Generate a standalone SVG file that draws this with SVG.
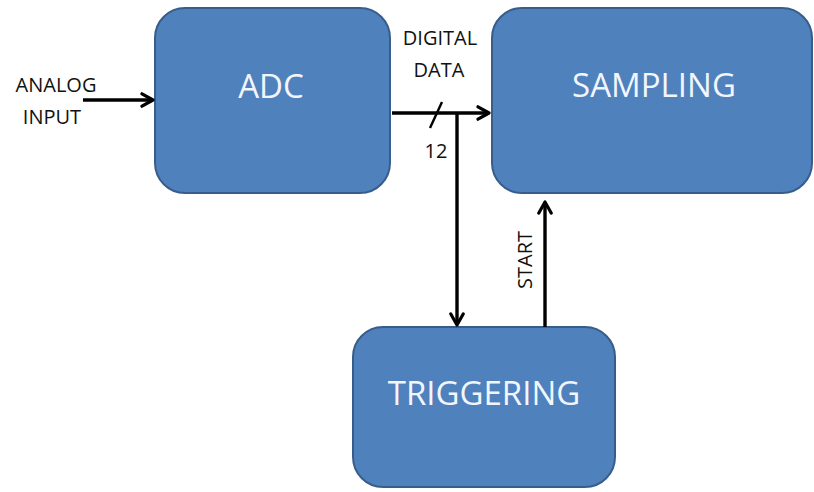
<svg xmlns="http://www.w3.org/2000/svg" width="814" height="492" viewBox="0 0 814 492">
  <style>
    .box { fill: #4f81bd; stroke: #385d8a; stroke-width: 2; }
    .title { font-family: "Open Sans", "Liberation Sans", sans-serif; font-size: 33px; fill: #f2f6fc; text-anchor: middle; }
    .label { font-family: "Open Sans", "Liberation Sans", sans-serif; font-size: 20px; fill: #111111; text-anchor: middle; }
    .wire { fill: none; stroke: #000; stroke-width: 3.4; }
  </style>
  <defs>
    <marker id="arrow" viewBox="0 0 16 16" refX="13.5" refY="8" markerWidth="16" markerHeight="16" markerUnits="userSpaceOnUse" orient="auto">
      <path d="M2.5,1.8 L13.5,8 L2.5,14.2" fill="none" stroke="#000" stroke-width="3.2" stroke-linecap="round" stroke-linejoin="round"/>
    </marker>
  </defs>
  <rect width="814" height="492" fill="#ffffff"/>

  <g id="adc">
    <rect class="box" x="155" y="8" width="235" height="185" rx="30" ry="30"/>
    <text class="title" x="271" y="98">ADC</text>
  </g>

  <g id="sampling">
    <rect class="box" x="492" y="8" width="320" height="185" rx="30" ry="30"/>
    <text class="title" x="654" y="97">SAMPLING</text>
  </g>

  <g id="triggering">
    <rect class="box" x="353" y="327" width="262" height="160" rx="30" ry="30"/>
    <text class="title" x="484" y="405">TRIGGERING</text>
  </g>

  <g id="connectors">
    <!-- analog input into ADC -->
    <path class="wire" d="M83,100 H153" marker-end="url(#arrow)"/>
    <!-- 12-bit data bus from ADC to SAMPLING -->
    <path class="wire" d="M392,113 H489" marker-end="url(#arrow)"/>
    <path d="M430,128 L442,102" stroke="#000" stroke-width="2.4"/>
    <!-- branch down to TRIGGERING -->
    <path class="wire" d="M457,113 V325" marker-end="url(#arrow)"/>
    <!-- start signal up to SAMPLING -->
    <path class="wire" d="M545,327 V202" marker-end="url(#arrow)"/>
  </g>

  <g id="labels">
    <text class="label" x="56" y="92" font-size="21">ANALOG</text>
    <text class="label" x="52" y="124" font-size="21">INPUT</text>
    <text class="label" x="440" y="45">DIGITAL</text>
    <text class="label" x="439" y="77">DATA</text>
    <text class="label" x="436" y="158">12</text>
    <text class="label" transform="translate(532,260) rotate(-90)">START</text>
  </g>
</svg>
